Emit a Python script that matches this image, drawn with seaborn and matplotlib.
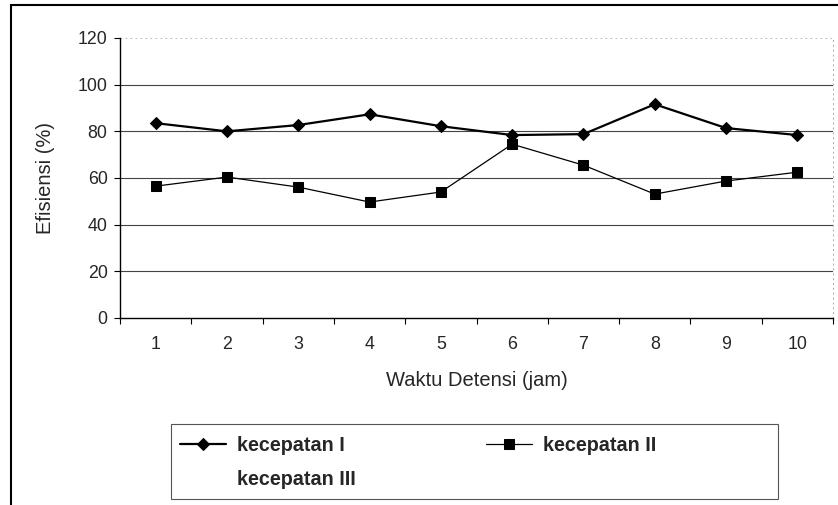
import matplotlib
matplotlib.use("Agg")
import matplotlib.pyplot as plt
import seaborn as sns
import numpy as np
import pandas as pd
from matplotlib.patches import Rectangle

# ---- data ----
categories = ["1", "2", "3", "4", "5", "6", "7", "8", "9", "10"]
kecepatan_1 = [83.5, 80.0, 82.7, 87.3, 82.2, 78.4, 78.8, 91.6, 81.4, 78.4]
kecepatan_2 = [56.5, 60.4, 56.1, 49.7, 54.0, 74.5, 65.5, 53.1, 58.7, 62.5]
kecepatan_3 = []  # no data shown
y_ticks = [0, 20, 40, 60, 80, 100, 120]

sns.set_theme(style="white")
plt.rcParams["font.family"] = ["Liberation Sans", "DejaVu Sans"]

fig = plt.figure(figsize=(8.38, 5.05), dpi=100)
W, H = 838, 505
ax = fig.add_axes([120 / W, 1 - 318 / H, (833 - 120) / W, (318 - 38) / H])

pos = np.arange(1, len(categories) + 1)
df1 = pd.DataFrame({"x": pos, "y": kecepatan_1})
df2 = pd.DataFrame({"x": pos, "y": kecepatan_2})

sns.lineplot(data=df1, x="x", y="y", ax=ax, color="black", linewidth=1.6,
             marker="D", markersize=6.2, markeredgecolor="black",
             markerfacecolor="black", label="kecepatan I")
sns.lineplot(data=df2, x="x", y="y", ax=ax, color="black", linewidth=0.9,
             marker="s", markersize=7.0, markeredgecolor="black",
             markerfacecolor="black", label="kecepatan II")
ax.plot(list(range(len(kecepatan_3))), kecepatan_3, linestyle="none",
        marker="none", label="kecepatan III")

ax.set_xlim(0.5, len(categories) + 0.5)
ax.set_ylim(0, 120)
ax.set_yticks(y_ticks)
ax.set_yticklabels([str(v) for v in y_ticks], fontsize=12.8)
ax.set_xticks(pos)
ax.set_xticklabels(categories, fontsize=12.8)
ax.set_xticks(np.arange(0.5, len(categories) + 1.0, 1.0), minor=True)
ax.tick_params(axis="x", which="major", length=0, pad=13)
ax.tick_params(axis="x", which="minor", length=4, width=0.8, color="black",
               direction="out", bottom=True)
ax.tick_params(axis="y", which="major", length=4, width=0.8, color="black",
               direction="out", left=True, pad=5)

for v in y_ticks[1:-1]:
    ax.axhline(v, color="#444444", linewidth=0.8, zorder=0)
ax.axhline(120, color="#aaaaaa", linewidth=0.6, linestyle=(0, (2, 4)), zorder=0)

for s in ["left", "bottom"]:
    ax.spines[s].set_color("black")
    ax.spines[s].set_linewidth(1.0)
ax.spines["top"].set_visible(False)
ax.spines["right"].set_color("#aaaaaa")
ax.spines["right"].set_linestyle((0, (1, 4)))
ax.spines["right"].set_linewidth(0.7)

ax.set_xlabel("Waktu Detensi (jam)", fontsize=14.5, labelpad=13)
ax.set_ylabel("Efisiensi (%)", fontsize=14.5, labelpad=16)

handles, labels = ax.get_legend_handles_labels()
hmap = dict(zip(labels, handles))
if ax.get_legend():
    ax.get_legend().remove()

# legend box
fig.patches.append(Rectangle((171 / W, 1 - 499 / H), (778 - 171) / W, 75 / H,
                             transform=fig.transFigure, fill=False,
                             edgecolor="#555555", linewidth=0.8))

leg_kw = dict(frameon=False, handlelength=2.35,
              handletextpad=0.55, borderpad=0, borderaxespad=0,
              labelspacing=0.75, loc="upper left",
              prop={"weight": "bold", "size": 14.2})
col1 = ["kecepatan I", "kecepatan III"]
leg1 = fig.legend([hmap[k] for k in col1], col1,
                  bbox_to_anchor=(180 / W, 1 - 436 / H), **leg_kw)
col2 = ["kecepatan II"]
leg2 = fig.legend([hmap[k] for k in col2], col2,
                  bbox_to_anchor=(486 / W, 1 - 436 / H), **leg_kw)

# outer chart frame
fig.patches.append(Rectangle((11 / W, -0.05), 1.2, 1 - 5 / H + 0.05,
                             transform=fig.transFigure, fill=False,
                             edgecolor="black", linewidth=1.5))

fig.savefig("out.png", dpi=100)
